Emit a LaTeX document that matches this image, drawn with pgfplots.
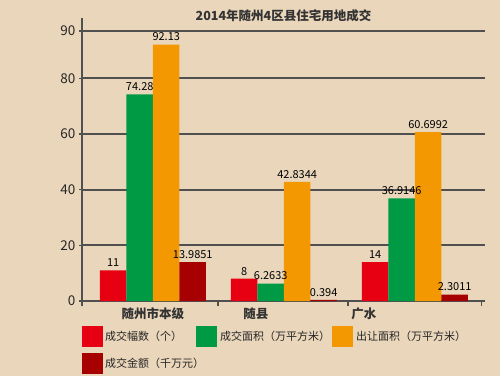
\documentclass[border=0pt]{standalone}
\usepackage{pgfplots}
\pgfplotsset{compat=1.18}
\usepackage{fontspec}
\setmainfont{Noto Sans CJK SC}
\definecolor{bg}{RGB}{234,214,186}
\definecolor{cred}{RGB}{230,0,18}
\definecolor{cgreen}{RGB}{0,153,68}
\definecolor{corange}{RGB}{243,152,0}
\definecolor{cdark}{RGB}{167,0,0}
\definecolor{gridc}{RGB}{80,80,80}
\begin{document}
\begin{tikzpicture}
\fill[bg] (0,0) rectangle (500pt,376pt);
\begin{axis}[
  at={(82pt,75pt)}, anchor=south west,
  scale only axis, width=403pt, height=270pt,
  xmin=-0.542, xmax=2.535, ymin=0, ymax=97,
  ybar=0pt, bar width=26.5pt,
  separate axis lines,
  axis x line=bottom, axis y line=left,
  axis line style={-, gridc, line width=1.5pt},
  y axis line style={shorten <=-5pt, shorten >=-13pt},
  ytick={0,20,40,60,80,97}, yticklabels={0,20,40,60,80,90},
  grid=major,
  xmajorgrids=false,
  grid style={solid, gridc, line width=2pt, opacity=1},
  tick align=outside, major tick length=3pt,
  ytick style={gridc, line width=1.6pt},
  xtick={0,0.786,1.61}, xticklabels={随州市本级,随县,广水},
  xtick style={draw=none},
  extra x ticks={-0.542,0.496,1.489,2.51}, extra x tick labels={},
  extra x tick style={xtick style={draw=gridc, line width=1.2pt}, major tick length=5pt},
  xticklabel style={font=\fontsize{12.5}{14}\selectfont\bfseries, text=black!80},
  yticklabel style={font=\fontsize{13.5}{15}\selectfont, text=black!85},
  /pgf/number format/assume math mode=true,
  nodes near coords={\pgfmathprintnumber[precision=4]{\pgfplotspointmeta}},
  nodes near coords style={font=\fontsize{11}{12}\selectfont, text=black},
  title={2014年随州4区县住宅用地成交},
  title style={font=\fontsize{12.5}{14}\selectfont\bfseries, text=black!80},
  legend image code/.code={\fill[#1,draw=none] (0pt,-10.5pt) rectangle (21pt,10.5pt);},
  legend columns=3,
  legend cell align=left,
  legend style={at={(0,0)}, anchor=north west, yshift=-25pt, draw=none, fill=none,
    inner sep=0pt, font=\fontsize{11}{13}\selectfont, text=black!85, row sep=6pt,
    nodes={inner sep=0pt},
    /tikz/column 1/.style={column sep=2pt},
    /tikz/column 2/.style={column sep=14pt},
    /tikz/column 3/.style={column sep=3pt},
    /tikz/column 4/.style={column sep=2pt},
    /tikz/column 5/.style={column sep=3pt}},
]
\addplot[fill=cred, draw=none] coordinates {(0,11) (1,8) (2,14)};
\addplot[fill=cgreen, draw=none] coordinates {(0,74.28) (1,6.2633) (2,36.9146)};
\addplot[fill=corange, draw=none] coordinates {(0,92.13) (1,42.8344) (2,60.6992)};
\addplot[fill=cdark, draw=none] coordinates {(0,13.9851) (1,0.394) (2,2.3011)};
\legend{成交幅数（个）, 成交面积（万平方米）, 出让面积（万平方米）, \makebox[77pt][l]{成交金额（千万元）}}
\end{axis}
\end{tikzpicture}
\end{document}
